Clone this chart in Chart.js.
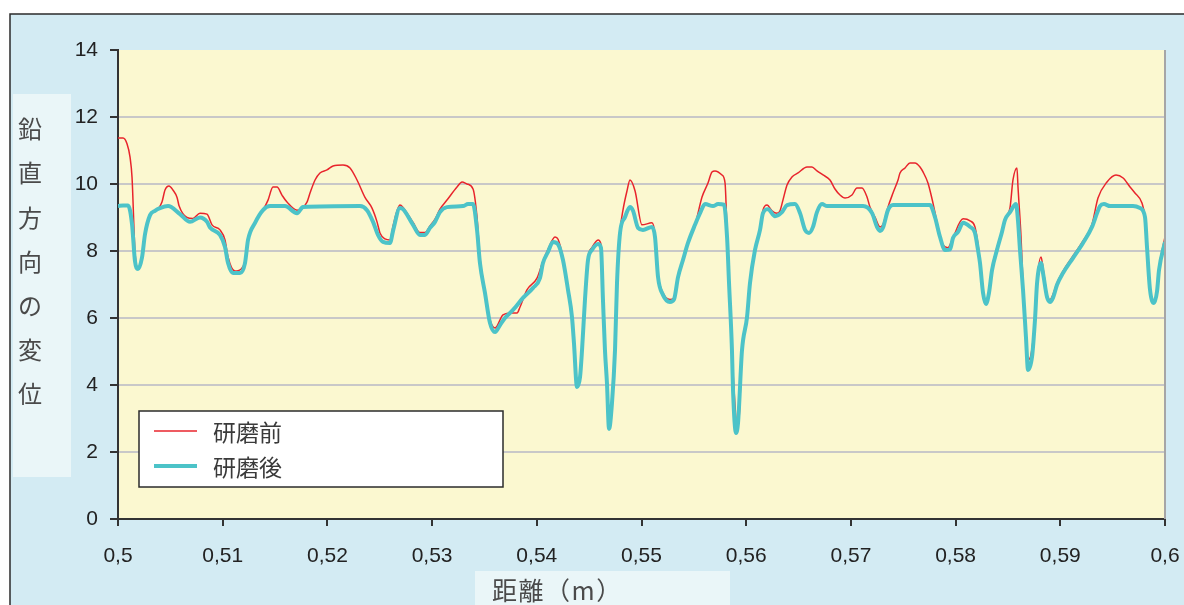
<!DOCTYPE html>
<html>
<head>
<meta charset="utf-8">
<script src="https://cdn.jsdelivr.net/npm/chart.js@4.4.1/dist/chart.umd.min.js"></script>
<style>
  html, body { margin: 0; padding: 0; background: #ffffff; }
  canvas { display: block; }
</style>
</head>
<body>
<canvas id="chart" width="1184" height="605"></canvas>
<script>
// Vertical displacement along the rail, before and after grinding
const seriesNames = ['研磨前', '研磨後'];
const yAxisTitle = '鉛直方向の変位';
const xAxisTitle = '距離（m）';

const distBefore = [
  0.5, 0.50048, 0.50086, 0.50115, 0.50134, 0.50162, 0.50191, 0.50229, 0.50258, 0.50306,
  0.50353, 0.50382, 0.5042, 0.50449, 0.50487, 0.50525, 0.50564, 0.50583, 0.50659, 0.50716,
  0.50783, 0.5085, 0.50898, 0.50974, 0.51022, 0.51051, 0.51117, 0.51184, 0.51213, 0.51242,
  0.51309, 0.51385, 0.51433, 0.5148, 0.51519, 0.51566, 0.51614, 0.5171, 0.51805, 0.51834,
  0.51882, 0.51929, 0.51996, 0.52054, 0.52149, 0.52216, 0.52283, 0.52359, 0.52426, 0.52474,
  0.52502, 0.5255, 0.52598, 0.52627, 0.52693, 0.52722, 0.52818, 0.52884, 0.52932, 0.5298,
  0.53028, 0.53075, 0.53142, 0.53238, 0.53286, 0.53333, 0.53391, 0.53429, 0.53457, 0.53505,
  0.53553, 0.53601, 0.53677, 0.53763, 0.53811, 0.5384, 0.53906, 0.54002, 0.54059, 0.54107,
  0.54174, 0.54203, 0.5425, 0.54298, 0.54336, 0.54355, 0.54384, 0.54413, 0.54432, 0.5446,
  0.54489, 0.54527, 0.54585, 0.54613, 0.54632, 0.54651, 0.5467, 0.5469, 0.54718, 0.54747,
  0.54766, 0.54795, 0.54823, 0.54862, 0.5489, 0.54938, 0.55005, 0.551, 0.55129, 0.55158,
  0.55205, 0.55272, 0.5531, 0.55349, 0.55396, 0.55444, 0.55511, 0.5553, 0.55578, 0.55635,
  0.55673, 0.55702, 0.55769, 0.55798, 0.55817, 0.55836, 0.55864, 0.55883, 0.55912, 0.55931,
  0.5596, 0.56008, 0.56036, 0.56084, 0.56132, 0.5616, 0.56199, 0.56246, 0.56294, 0.56323,
  0.56351, 0.5639, 0.56437, 0.56495, 0.56581, 0.56628, 0.56676, 0.56734, 0.568, 0.56848,
  0.56896, 0.56944, 0.5701, 0.57058, 0.57106, 0.57154, 0.57182, 0.5723, 0.57278, 0.57307,
  0.57354, 0.57402, 0.5745, 0.57469, 0.57517, 0.57564, 0.57612, 0.5766, 0.57689, 0.57736,
  0.57784, 0.57832, 0.5788, 0.57927, 0.57975, 0.58071, 0.58138, 0.58185, 0.58214, 0.58233,
  0.58262, 0.5829, 0.58319, 0.58348, 0.58395, 0.58443, 0.58472, 0.5852, 0.58548, 0.58586,
  0.58596, 0.58625, 0.58644, 0.58672, 0.58692, 0.5872, 0.58758, 0.58778, 0.58816, 0.58835,
  0.58873, 0.58902, 0.5893, 0.58969, 0.59026, 0.59121, 0.59217, 0.59303, 0.5936, 0.59446,
  0.59532, 0.596, 0.59666, 0.59713, 0.5978, 0.59809, 0.59828, 0.59857, 0.59895, 0.59924,
  0.59943, 0.6
];
const before = [
  11.37, 11.37, 11.2, 10.8, 10.2, 8.0, 7.5, 7.8, 8.5, 9.07,
  9.2, 9.25, 9.46, 9.82, 9.94, 9.82, 9.6, 9.35, 9.0, 8.97,
  9.13, 9.1, 8.78, 8.63, 8.33, 7.82, 7.4, 7.49, 7.7, 8.33,
  8.84, 9.22, 9.52, 9.91, 9.91, 9.67, 9.46, 9.22, 9.46, 9.73,
  10.12, 10.33, 10.42, 10.54, 10.57, 10.48, 10.12, 9.6, 9.28, 8.87,
  8.54, 8.36, 8.33, 8.75, 9.37, 9.3, 8.85, 8.55, 8.55, 8.75,
  8.95, 9.25, 9.52, 9.91, 10.06, 10.0, 9.85, 9.01, 7.8, 6.8,
  5.95, 5.7, 6.09, 6.15, 6.15, 6.33, 6.84, 7.19, 7.7, 8.05,
  8.42, 8.35, 7.8, 6.9, 6.1, 5.3, 4.0, 4.3, 5.1, 6.6,
  7.8, 8.1, 8.33, 8.2, 6.6, 5.1, 4.1, 2.8, 3.5, 5.1,
  7.1, 8.6, 9.22, 9.8, 10.12, 9.8, 8.78, 8.84, 8.5, 7.3,
  6.75, 6.55, 6.6, 7.22, 7.73, 8.24, 8.78, 9.0, 9.61, 10.03,
  10.36, 10.39, 10.27, 10.03, 8.6, 7.1, 5.1, 3.9, 2.87, 3.0,
  5.04, 6.03, 7.04, 8.03, 8.63, 9.22, 9.37, 9.2, 9.13, 9.2,
  9.52, 9.97, 10.21, 10.33, 10.51, 10.51, 10.39, 10.27, 10.12, 9.85,
  9.67, 9.58, 9.67, 9.88, 9.88, 9.61, 9.31, 9.01, 8.72, 8.8,
  9.31, 9.73, 10.12, 10.33, 10.48, 10.63, 10.63, 10.51, 10.36, 10.03,
  9.43, 8.72, 8.18, 8.1, 8.4, 8.96, 8.9, 8.72, 8.2, 7.7,
  6.8, 6.5, 6.8, 7.5, 8.1, 8.6, 8.95, 9.3, 10.12, 10.48,
  9.91, 8.42, 7.0, 5.6, 4.75, 4.9, 6.0, 7.1, 7.82, 7.5,
  6.7, 6.55, 6.7, 7.05, 7.4, 7.85, 8.3, 8.8, 9.58, 10.06,
  10.27, 10.18, 9.91, 9.73, 9.43, 9.0, 8.2, 6.9, 6.5, 6.85,
  7.5, 8.42
];

const distAfter = [
  0.5, 0.50048, 0.50096, 0.50134, 0.50162, 0.50191, 0.50229, 0.50258, 0.50306, 0.50353,
  0.50401, 0.50478, 0.50592, 0.50688, 0.50783, 0.5085, 0.50879, 0.50974, 0.51022, 0.51051,
  0.51098, 0.51165, 0.51213, 0.51242, 0.51309, 0.51385, 0.51452, 0.51595, 0.5171, 0.51767,
  0.52311, 0.52378, 0.52436, 0.52483, 0.52531, 0.52598, 0.52627, 0.52693, 0.52722, 0.52818,
  0.52884, 0.52932, 0.5298, 0.53028, 0.53075, 0.53142, 0.53295, 0.53343, 0.53391, 0.53429,
  0.53457, 0.53505, 0.53553, 0.53601, 0.53649, 0.53696, 0.53773, 0.53868, 0.53964, 0.5403,
  0.54059, 0.54107, 0.54155, 0.54203, 0.5425, 0.54298, 0.54336, 0.54355, 0.54384, 0.54413,
  0.54432, 0.5446, 0.54489, 0.54527, 0.54585, 0.54613, 0.54632, 0.54651, 0.5467, 0.5469,
  0.54718, 0.54747, 0.54766, 0.54795, 0.54842, 0.5489, 0.54919, 0.54967, 0.55014, 0.551,
  0.55129, 0.55158, 0.55205, 0.55272, 0.5531, 0.55349, 0.55396, 0.55444, 0.55511, 0.55559,
  0.55607, 0.55683, 0.55731, 0.55788, 0.55817, 0.55836, 0.55864, 0.55874, 0.55903, 0.55922,
  0.5596, 0.56008, 0.56036, 0.56084, 0.56132, 0.5616, 0.56208, 0.56275, 0.56342, 0.5639,
  0.56466, 0.56514, 0.56562, 0.566, 0.56638, 0.56676, 0.56724, 0.56772, 0.57116, 0.57202,
  0.57249, 0.57278, 0.57307, 0.57354, 0.57402, 0.57755, 0.57803, 0.57851, 0.57899, 0.57947,
  0.57975, 0.58023, 0.58071, 0.58138, 0.58185, 0.58214, 0.58233, 0.58262, 0.5829, 0.58319,
  0.58348, 0.58395, 0.58443, 0.58472, 0.5852, 0.58577, 0.58596, 0.58615, 0.58644, 0.58672,
  0.58692, 0.5873, 0.58758, 0.58778, 0.58816, 0.58835, 0.58873, 0.58902, 0.5893, 0.58969,
  0.59026, 0.59121, 0.59217, 0.59303, 0.59351, 0.59379, 0.59417, 0.59475, 0.59694, 0.59761,
  0.59809, 0.59828, 0.59857, 0.59895, 0.59924, 0.59943, 0.6
];
const after = [
  9.34, 9.36, 9.36, 8.8, 7.7, 7.46, 7.8, 8.5, 9.07, 9.2,
  9.28, 9.34, 9.1, 8.87, 9.0, 8.87, 8.7, 8.48, 8.12, 7.64,
  7.34, 7.34, 7.64, 8.33, 8.84, 9.22, 9.34, 9.34, 9.13, 9.31,
  9.34, 9.22, 8.87, 8.48, 8.27, 8.24, 8.6, 9.28, 9.25, 8.78,
  8.48, 8.48, 8.69, 8.87, 9.16, 9.31, 9.34, 9.4, 9.4, 8.63,
  7.64, 6.75, 5.85, 5.58, 5.79, 6.0, 6.24, 6.6, 6.9, 7.19,
  7.64, 7.97, 8.27, 8.2, 7.73, 6.84, 6.03, 5.25, 3.94, 4.24,
  5.04, 6.54, 7.73, 8.03, 8.21, 8.1, 6.54, 5.04, 4.06, 2.69,
  3.46, 5.04, 7.04, 8.54, 9.01, 9.31, 9.2, 8.69, 8.63, 8.72,
  8.42, 7.22, 6.69, 6.48, 6.55, 7.22, 7.73, 8.24, 8.78, 9.13,
  9.4, 9.34, 9.4, 9.38, 8.42, 7.04, 5.04, 3.85, 2.57, 2.87,
  5.04, 6.03, 7.04, 8.03, 8.63, 9.13, 9.25, 9.04, 9.16, 9.37,
  9.4, 9.13, 8.63, 8.54, 8.72, 9.16, 9.4, 9.34, 9.34, 9.13,
  8.72, 8.6, 8.7, 9.22, 9.37, 9.37, 9.01, 8.42, 8.03, 8.05,
  8.39, 8.57, 8.84, 8.72, 8.54, 8.03, 7.64, 6.75, 6.42, 6.75,
  7.43, 8.03, 8.57, 8.93, 9.16, 9.4, 8.9, 8.03, 6.84, 5.43,
  4.45, 4.84, 5.94, 7.04, 7.64, 7.34, 6.63, 6.48, 6.6, 6.99,
  7.34, 7.79, 8.24, 8.72, 9.13, 9.34, 9.4, 9.34, 9.34, 9.28,
  9.01, 8.12, 6.84, 6.45, 6.8, 7.43, 8.27
];

const toPoints = (xs, ys) => xs.map((x, i) => ({ x: x, y: ys[i] }));

const RED = '#e8242c';
const TEAL = '#4cc3c8';
const PANEL = '#d3ebf3';
const PLOT = '#fbf8d0';
const TITLE_BOX = '#eaf6f8';
const CJK = '"Noto Sans CJK JP", "Noto Sans CJK SC", sans-serif';
const LATIN = '"Liberation Sans", Arial, sans-serif';

// Panel, plot background, axis title boxes and legend
const decor = {
  id: 'decor',
  beforeDraw(chart) {
    const { ctx, chartArea: a } = chart;
    ctx.save();
    ctx.fillStyle = '#ffffff';
    ctx.fillRect(0, 0, chart.width, chart.height);
    ctx.fillStyle = PANEL;
    ctx.fillRect(10, 14, chart.width - 10, chart.height - 14);
    ctx.strokeStyle = '#2b2b2b';
    ctx.lineWidth = 1.5;
    ctx.beginPath();
    ctx.moveTo(10, chart.height);
    ctx.lineTo(10, 14);
    ctx.lineTo(chart.width, 14);
    ctx.stroke();

    ctx.fillStyle = PLOT;
    ctx.fillRect(a.left, a.top, a.right - a.left, a.bottom - a.top);

    // vertical axis title, one character per line
    ctx.fillStyle = TITLE_BOX;
    ctx.fillRect(13, 94, 58, 383);
    ctx.fillStyle = '#4a4a4a';
    ctx.font = '24px ' + CJK;
    ctx.textAlign = 'center';
    ctx.textBaseline = 'middle';
    Array.from(yAxisTitle).forEach((ch, i) => {
      ctx.fillText(ch, 30, 129 + i * 44.2);
    });

    // horizontal axis title
    ctx.fillStyle = TITLE_BOX;
    ctx.fillRect(475, 571, 255, 40);
    ctx.fillStyle = '#4a4a4a';
    ctx.font = '25px ' + CJK;
    ctx.textAlign = 'left';
    if ('letterSpacing' in ctx) ctx.letterSpacing = '1.5px';
    ctx.fillText(xAxisTitle, 492, 590);
    ctx.restore();
  },
  afterDatasetsDraw(chart) {
    const { ctx, chartArea: a } = chart;
    ctx.save();
    // right edge of the plot
    ctx.strokeStyle = '#a6a6a6';
    ctx.lineWidth = 2;
    ctx.beginPath();
    ctx.moveTo(a.right, a.top);
    ctx.lineTo(a.right, a.bottom);
    ctx.stroke();
    ctx.restore();
  },
  afterDraw(chart) {
    const { ctx } = chart;
    ctx.save();
    ctx.fillStyle = '#ffffff';
    ctx.fillRect(139, 411, 364, 76);
    ctx.strokeStyle = '#2b2b2b';
    ctx.lineWidth = 1.5;
    ctx.strokeRect(139, 411, 364, 76);

    const rows = [
      { name: seriesNames[0], color: RED, width: 1.5, y: 431 },
      { name: seriesNames[1], color: TEAL, width: 4, y: 466 }
    ];
    ctx.font = '23px ' + CJK;
    ctx.textAlign = 'left';
    ctx.textBaseline = 'middle';
    rows.forEach(r => {
      ctx.strokeStyle = r.color;
      ctx.lineWidth = r.width;
      ctx.beginPath();
      ctx.moveTo(154, r.y);
      ctx.lineTo(197, r.y);
      ctx.stroke();
      ctx.fillStyle = '#3a3a3a';
      ctx.fillText(r.name, 213, r.y + 1);
    });
    ctx.restore();
  }
};

new Chart(document.getElementById('chart'), {
  type: 'line',
  data: {
    datasets: [
      {
        label: seriesNames[0],
        data: toPoints(distBefore, before),
        borderColor: RED,
        borderWidth: 1.5,
        pointRadius: 0,
        cubicInterpolationMode: 'monotone',
        order: 2
      },
      {
        label: seriesNames[1],
        data: toPoints(distAfter, after),
        borderColor: TEAL,
        borderWidth: 4,
        pointRadius: 0,
        cubicInterpolationMode: 'monotone',
        order: 1
      }
    ]
  },
  options: {
    responsive: false,
    animation: false,
    events: [],
    layout: { padding: { left: 0, top: 50, right: 19, bottom: 0 } },
    plugins: {
      legend: { display: false },
      tooltip: { enabled: false }
    },
    scales: {
      x: {
        type: 'linear',
        min: 0.5,
        max: 0.6,
        afterFit(scale) {
          scale.height = 86;
          scale.paddingLeft = 0;
          scale.paddingRight = 0;
        },
        ticks: {
          stepSize: 0.01,
          padding: 18,
          maxRotation: 0,
          autoSkip: false,
          color: '#222222',
          font: { family: LATIN, size: 21 },
          callback: v => String(Number(v.toFixed(2))).replace('.', ',')
        },
        grid: {
          drawOnChartArea: false,
          drawTicks: true,
          tickLength: 7,
          tickColor: '#333333',
          lineWidth: 2
        },
        border: { color: '#333333', width: 2 }
      },
      y: {
        min: 0,
        max: 14,
        afterFit(scale) {
          scale.width = 118;
          scale.paddingTop = 0;
          scale.paddingBottom = 0;
        },
        ticks: {
          stepSize: 2,
          padding: 12,
          color: '#222222',
          font: { family: LATIN, size: 21 }
        },
        grid: {
          color: c => (c.tick && (c.tick.value === 0 || c.tick.value === 14)) ? 'rgba(0,0,0,0)' : '#c8c8c8',
          lineWidth: 2,
          tickLength: 8,
          tickColor: '#333333'
        },
        border: { color: '#333333', width: 2 }
      }
    }
  },
  plugins: [decor]
});
</script>
</body>
</html>
